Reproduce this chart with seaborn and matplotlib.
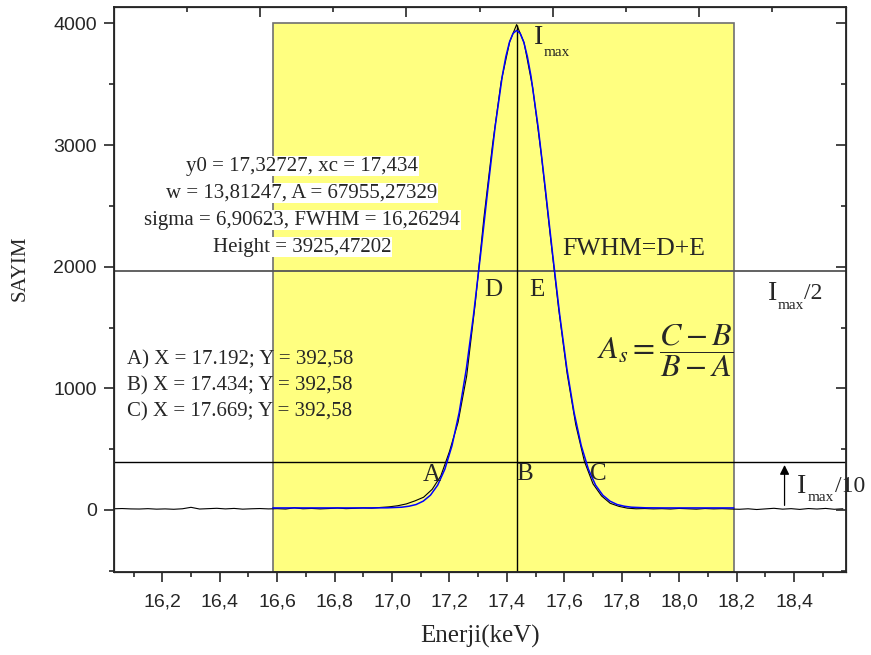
import numpy as np
import pandas as pd
import matplotlib
matplotlib.use("Agg")
import matplotlib.pyplot as plt
from matplotlib.patches import Rectangle
from matplotlib.ticker import FuncFormatter, MultipleLocator
import seaborn as sns

# measured spectrum (black)
data_x = [16.03, 16.06, 16.09, 16.12, 16.15, 16.18, 16.21, 16.24, 16.27, 16.30, 16.33,
          16.36, 16.39, 16.42, 16.45, 16.48, 16.51, 16.54, 16.57, 16.60, 16.63, 16.66,
          16.69, 16.72, 16.75, 16.78, 16.81, 16.84, 16.87, 16.90, 16.93, 16.96, 16.99,
          17.02, 17.05, 17.08, 17.11, 17.14, 17.17, 17.20, 17.23, 17.26, 17.29, 17.32,
          17.35, 17.38, 17.41, 17.434, 17.46, 17.49, 17.52, 17.55, 17.58, 17.61, 17.64,
          17.67, 17.70, 17.73, 17.76, 17.79, 17.82, 17.85, 17.88, 17.91, 17.94, 17.97,
          18.00, 18.03, 18.06, 18.09, 18.12, 18.15, 18.18, 18.21, 18.24, 18.27, 18.30,
          18.33, 18.36, 18.39, 18.42, 18.45, 18.48, 18.51, 18.54, 18.57]
data_y = [10, 12, 9, 8, 11, 7, 9, 6, 10, 22, 8,
          11, 14, 9, 13, 7, 10, 12, 9, 11, 8, 18,
          10, 13, 9, 12, 16, 11, 14, 17, 15, 21, 26,
          35, 50, 75, 105, 170, 280, 480, 720, 1100, 1700, 2400,
          3000, 3520, 3850, 3990, 3840, 3470, 2920, 2280, 1660, 1120, 700,
          400, 215, 115, 55, 30, 15, 10, 12, 9, 11, 8,
          13, 10, 7, 12, 9, 11, 8, 6, 10, 4, 9,
          14, 7, 11, 5, 12, 8, 13, 6, 10]

# Gauss fit (blue)
fit_x = [16.585, 16.70, 16.80, 16.90, 16.984, 17.034, 17.059, 17.084, 17.109, 17.134,
         17.159, 17.184, 17.209, 17.234, 17.259, 17.284, 17.309, 17.334, 17.359, 17.384,
         17.3965, 17.409, 17.4215, 17.434, 17.4465, 17.459, 17.4715, 17.484, 17.509,
         17.534, 17.559, 17.584, 17.609, 17.634, 17.659, 17.684, 17.709, 17.734, 17.759,
         17.784, 17.809, 17.834, 17.884, 17.95, 18.05, 18.19]
fit_y = [17, 17, 17, 17, 18, 23, 31, 45, 73, 122,
         204, 335, 529, 802, 1162, 1605, 2111, 2642, 3147, 3566,
         3726, 3845, 3917, 3942, 3917, 3845, 3726, 3566, 3147,
         2642, 2111, 1605, 1162, 802, 529, 335, 204, 122, 73,
         45, 31, 23, 18, 17, 17, 17]

fit_lines = ["y0 = 17,32727, xc = 17,434",
             "w = 13,81247, A = 67955,27329",
             "sigma = 6,90623, FWHM = 16,26294",
             "Height = 3925,47202"]
point_lines = ["A) X = 17.192; Y = 392,58",
               "B) X = 17.434; Y = 392,58",
               "C) X = 17.669; Y = 392,58"]

xc = 17.434
i_peak = 3990
half_max = 1962.7
tenth = 392.58
pt_a, pt_c = 17.192, 17.669
roi = (16.585, 18.19)
roi_top = 4000

sns.set_style("ticks")
plt.rcParams["font.family"] = ["Liberation Serif", "DejaVu Serif"]
plt.rcParams["mathtext.fontset"] = "stix"

fig = plt.figure(figsize=(8.71, 6.55), dpi=100)
ax = fig.add_axes([0.1309, 0.1272, 0.8404, 0.8628])
xlim = (16.032, 18.581)
ylim = (-507, 4138)

ax.add_patch(Rectangle((roi[0], ylim[0]), roi[1] - roi[0], roi_top - ylim[0],
                       facecolor="#ffff80", edgecolor="#707070", lw=1.2, zorder=0))

df_data = pd.DataFrame({"x": data_x, "y": data_y})
df_fit = pd.DataFrame({"x": fit_x, "y": fit_y})
sns.lineplot(data=df_data, x="x", y="y", color="black", lw=0.8, sort=False, ax=ax, zorder=3)
sns.lineplot(data=df_fit, x="x", y="y", color="#0000ff", lw=1.1, sort=False, ax=ax, zorder=4)

ax.axhline(half_max, color="#555555", lw=1.3, zorder=2)
ax.axhline(tenth, color="black", lw=1.0, zorder=2)
ax.vlines(xc, ylim[0], i_peak, color="black", lw=1.0, zorder=2)

ax.set_xlim(xlim)
ax.set_ylim(ylim)
ax.xaxis.set_major_locator(MultipleLocator(0.2))
ax.xaxis.set_minor_locator(MultipleLocator(0.1))
ax.yaxis.set_major_locator(MultipleLocator(1000))
ax.yaxis.set_minor_locator(MultipleLocator(500))
ax.xaxis.set_major_formatter(FuncFormatter(lambda v, p: f"{v:.1f}".replace(".", ",")))
ax.tick_params(which="major", direction="out", length=7, width=1.2, labelsize=14)
ax.tick_params(axis="x", which="major", pad=9)
ax.tick_params(axis="y", which="major", pad=5.5)
ax.tick_params(which="minor", direction="out", length=3.5, width=1.2)
for lab in ax.get_xticklabels() + ax.get_yticklabels():
    lab.set_family("Liberation Sans")
for s in ax.spines.values():
    s.set_linewidth(1.3)

# inward ticks on top and right like the original
ax_t = ax.twiny()
ax_t.set_xlim(xlim)
ax_t.set_xticks([16.54, 17.05, 17.56, 18.07])
ax_t.set_xticks([16.285, 16.795, 17.305, 17.815, 18.325], minor=True)
ax_t.tick_params(which="major", direction="in", length=7, width=1.2, labeltop=False)
ax_t.tick_params(which="minor", direction="in", length=3.5, width=1.2)
ax_r = ax.twinx()
ax_r.set_ylim(ylim)
ax_r.yaxis.set_major_locator(MultipleLocator(1000))
ax_r.yaxis.set_minor_locator(MultipleLocator(500))
ax_r.tick_params(which="major", direction="in", length=7, width=1.2, labelright=False)
ax_r.tick_params(which="minor", direction="in", length=3.5, width=1.2)

ax.set_xlabel("Enerji(keV)", fontsize=18, labelpad=10)
ax.set_ylabel("SAYIM", fontsize=15)
ax.yaxis.set_label_coords(-0.115, 0.537)

for i, line in enumerate(fit_lines):
    ax.text(16.687, 2827 - i * 222, line, ha="center", va="center", fontsize=15, zorder=6,
            bbox=dict(facecolor="white", edgecolor="none", pad=0.5))
for i, line in enumerate(point_lines):
    ax.text(16.077, 1233 - i * 212, line, ha="left", va="center", fontsize=15, zorder=6)

ax.text(17.352, 1807, "D", ha="center", va="center", fontsize=18, zorder=6)
ax.text(17.505, 1807, "E", ha="center", va="center", fontsize=18, zorder=6)
ax.text(pt_a - 0.055, 288, "A", ha="center", va="center", fontsize=18, zorder=6)
ax.text(xc + 0.029, 300, "B", ha="center", va="center", fontsize=18, zorder=6)
ax.text(pt_c + 0.05, 300, "C", ha="center", va="center", fontsize=18, zorder=6)
ax.text(17.592, 2145, "FWHM=D+E", ha="left", va="center", fontsize=18.5, zorder=6)

ax.text(17.512, 3881, "I", ha="center", va="center", fontsize=20, zorder=6)
ax.text(17.528, 3763, "max", ha="left", va="center", fontsize=11, zorder=6)
ax.text(18.324, 1781, "I", ha="center", va="center", fontsize=20, zorder=6)
ax.text(18.342, 1684, "max", ha="left", va="center", fontsize=11, zorder=6)
ax.text(18.434, 1781, "/2", ha="left", va="center", fontsize=17, zorder=6)
ax.text(18.426, 191, "I", ha="center", va="center", fontsize=20, zorder=6)
ax.text(18.446, 100, "max", ha="left", va="center", fontsize=11, zorder=6)
ax.text(18.541, 191, "/10", ha="left", va="center", fontsize=17, zorder=6, clip_on=False)

ax.annotate("", xy=(18.367, tenth), xytext=(18.367, 15),
            arrowprops=dict(arrowstyle="-|>", color="black", lw=0.9, mutation_scale=14), zorder=6)

ax.text(17.715, 1309, r"$A_s = \dfrac{C-B}{B-A}$", ha="left", va="center", fontsize=23, zorder=6)

fig.savefig("out.png", dpi=100)
